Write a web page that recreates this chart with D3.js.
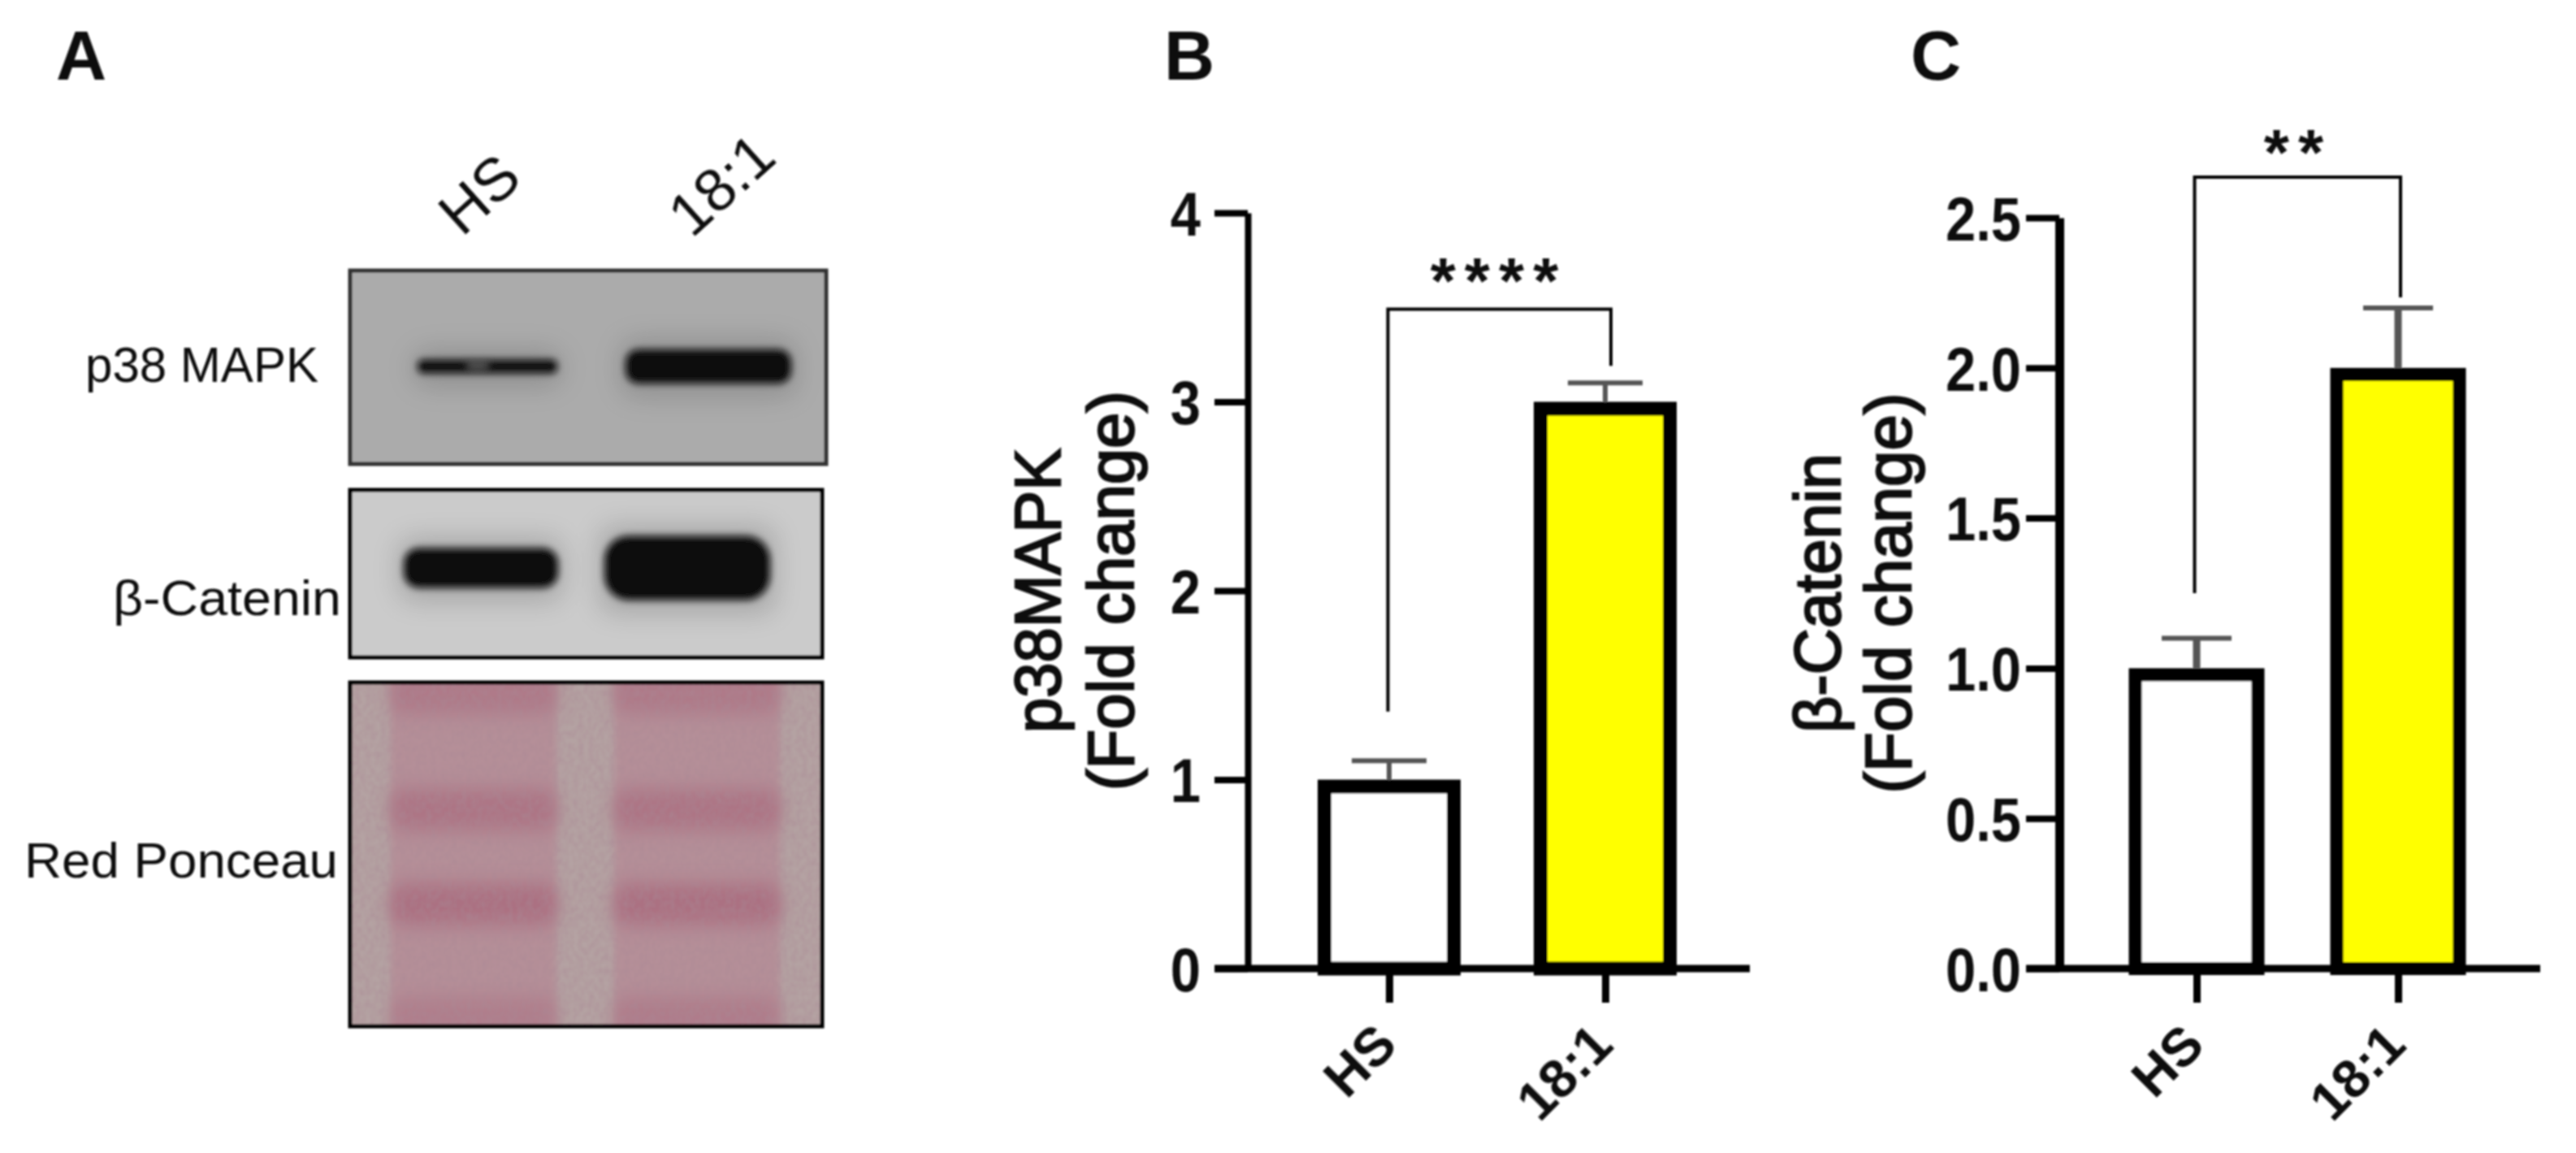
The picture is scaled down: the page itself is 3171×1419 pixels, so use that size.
<!DOCTYPE html>
<html>
<head>
<meta charset="utf-8">
<script src="https://d3js.org/d3.v7.min.js"></script>
<style>
	html, body { margin: 0; background: #fff; }
	svg { display: block; }
	text { font-family: "Liberation Sans", Arial, sans-serif; fill: #111; }
	.panel-letter { font-size: 86px; font-weight: 700; }
	.blot-label { font-size: 62px; }
	.lane-label { font-size: 74px; }
	.axis-title { font-size: 80px; text-anchor: middle; stroke: #111; stroke-width: 2.4px; }
	.tick-label { font-size: 76px; font-weight: 700; }
	.cat-label { font-size: 66px; font-weight: 700; }
	.stars { font-size: 80px; font-weight: 700; text-anchor: middle; }
</style>
</head>
<body>
<div id="vis"></div>
<script>
// data
var categories = ['HS', '18:1'];

var p38Means = [1, 3];
var p38Errors = [0.1, 0.1];
var p38Ticks = [0, 1, 2, 3, 4];
var p38Bracket = [1.36, 3.49, 3.19]; // left end, top, right end

var cateninMeans = [1, 2];
var cateninErrors = [0.1, 0.2];
var cateninTicks = [0, 0.5, 1, 1.5, 2, 2.5];
var cateninBracket = [1.25, 2.635, 2.235];

var barFills = ['#ffffff', '#ffff00'];

// blot band sizes, relative to the strongest lane
var p38Density = [0.4, 1];
var cateninDensity = [0.62, 1];
var ponceauRows = [0.03, 0.37, 0.645, 0.975];
var ponceauHS = [0.7, 0.85, 1, 0.55];
var ponceauOleate = [0.7, 0.85, 1, 0.6];

var width = 3171, height = 1419;

var svg = d3.select('#vis').append('svg')
	.attr('width', width)
	.attr('height', height);

var defs = svg.append('defs');

function addBlur(id, amount) {
	defs.append('filter').attr('id', id)
		.attr('x', '-30%').attr('y', '-80%')
		.attr('width', '160%').attr('height', '260%')
		.append('feGaussianBlur').attr('stdDeviation', amount);
}
addBlur('soft', 4);
addBlur('halo', 16);
addBlur('wide', 11);

// page wide softening, the source is an upscaled bitmap
defs.append('filter').attr('id', 'bitmap')
	.attr('filterUnits', 'userSpaceOnUse')
	.attr('x', 0).attr('y', 0).attr('width', width).attr('height', height)
	.append('feGaussianBlur').attr('stdDeviation', 1);

// membrane grain
var grain = defs.append('filter').attr('id', 'grain')
	.attr('x', 0).attr('y', 0).attr('width', 1).attr('height', 1);
grain.append('feTurbulence')
	.attr('type', 'fractalNoise').attr('baseFrequency', '0.16 0.12')
	.attr('numOctaves', 2).attr('seed', 4);
grain.append('feColorMatrix').attr('values',
	'0 0 0 0 0.4  0 0 0 0 0.25  0 0 0 0 0.3  1.8 0 0 0 -0.6');

var root = svg.append('g').attr('filter', 'url(#bitmap)');

root.append('text').attr('class', 'panel-letter').attr('x', 69).attr('y', 98).text('A');
root.append('text').attr('class', 'panel-letter').attr('x', 1433).attr('y', 98).text('B');
root.append('text').attr('class', 'panel-letter').attr('x', 2352).attr('y', 98).text('C');

drawBlots();

drawBars({
	means: p38Means, errors: p38Errors, ticks: p38Ticks, bracket: p38Bracket,
	left: 1536, right: 2154, top: 262, bottom: 1192,
	x0: 1710, x1: 1976, barWidth: 176, stroke: 17,
	capHalf: 46, axisWidth: 8, stemWidth: 6,
	tickFormat: d3.format('d'), tickGap: 58,
	title: ['p38MAPK', '(Fold change)'], titleX: [1305, 1395], titleLength: [350, 492],
	stars: '****', starX: 1845, starLift: 12, bracketNudge: [-1.5, 7]
});

drawBars({
	means: cateninMeans, errors: cateninErrors, ticks: cateninTicks, bracket: cateninBracket,
	left: 2535, right: 3127, top: 268, bottom: 1192,
	x0: 2704, x1: 2952, barWidth: 167, stroke: 16,
	capHalf: 43, axisWidth: 11, stemWidth: 9,
	tickFormat: d3.format('.1f'), tickGap: 47,
	title: ['\u03b2-Catenin', '(Fold change)'], titleX: [2265, 2352], titleLength: [344, 493],
	stars: '**', starX: 2829, starLift: 7, bracketNudge: [-2.5, 3]
});


/*
Bar panels B and C
	Built from the scales; the axis path is hidden for x since the
	baseline runs past the tick marks on both sides.
*/
function drawBars(p) {
	var g = root.append('g');

	var yMax = d3.max(p.ticks);
	var y = d3.scaleLinear().domain([0, yMax]).range([p.bottom, p.top]);
	var x = d3.scalePoint().domain(categories).range([p.x0, p.x1]);

	// bars
	categories.forEach(function(cat, i) {
		var top = y(p.means[i]) + p.stroke / 2;
		g.append('rect')
			.attr('x', x(cat) - p.barWidth / 2 + p.stroke / 2)
			.attr('y', top)
			.attr('width', p.barWidth - p.stroke)
			.attr('height', y(0) - top)
			.attr('fill', barFills[i])
			.attr('stroke', '#000')
			.attr('stroke-width', p.stroke);

		// error bar
		g.append('line')
			.attr('x1', x(cat)).attr('x2', x(cat))
			.attr('y1', y(p.means[i])).attr('y2', y(p.means[i] + p.errors[i]))
			.attr('stroke', '#555').attr('stroke-width', p.stemWidth);
		g.append('line')
			.attr('x1', x(cat) - p.capHalf).attr('x2', x(cat) + p.capHalf)
			.attr('y1', y(p.means[i] + p.errors[i])).attr('y2', y(p.means[i] + p.errors[i]))
			.attr('stroke', '#555').attr('stroke-width', 6);
	});

	// y axis
	var yAxis = g.append('g')
		.attr('transform', 'translate(' + p.left + ',0)')
		.call(d3.axisLeft(y).tickValues(p.ticks).tickFormat(p.tickFormat).tickSize(41).tickSizeOuter(0).tickPadding(17));
	yAxis.selectAll('.domain').attr('stroke', '#000').attr('stroke-width', p.axisWidth);
	yAxis.selectAll('.tick line').attr('stroke', '#000').attr('stroke-width', 8);
	// digits in the source are taller than they are wide
	yAxis.selectAll('.tick text')
		.attr('class', 'tick-label')
		.attr('x', 0).attr('dy', '0.36em')
		.attr('transform', 'translate(' + (-p.tickGap) + ',0) scale(0.88,1)');
	yAxis.attr('font-size', null).attr('font-family', null);

	// x axis
	var xAxis = g.append('g')
		.attr('transform', 'translate(0,' + p.bottom + ')')
		.call(d3.axisBottom(x).tickSize(42).tickSizeOuter(0));
	xAxis.selectAll('.domain').remove();
	xAxis.selectAll('.tick line').attr('stroke', '#000').attr('stroke-width', 9);
	xAxis.selectAll('.tick text')
		.attr('class', 'cat-label')
		.attr('text-anchor', 'end')
		.attr('x', 0).attr('y', 0).attr('dy', 0)
		.attr('transform', 'translate(12,97) rotate(-45)');
	xAxis.attr('font-size', null).attr('font-family', null);

	g.append('line')
		.attr('x1', p.left - 41).attr('x2', p.right)
		.attr('y1', y(0)).attr('y2', y(0))
		.attr('stroke', '#000').attr('stroke-width', 9);

	// significance bracket
	var lx = x(categories[0]) + p.bracketNudge[0];
	var rx = x(categories[1]) + p.bracketNudge[1];
	g.append('path')
		.attr('d', d3.line()([
			[lx, y(p.bracket[0])], [lx, y(p.bracket[1])],
			[rx, y(p.bracket[1])], [rx, y(p.bracket[2])]
		]))
		.attr('fill', 'none').attr('stroke', '#000').attr('stroke-width', 4);
	g.append('text').attr('class', 'stars')
		.attr('x', p.starX).attr('y', y(p.bracket[1]) - p.starLift + 4)
		.style('letter-spacing', '11px')
		.text(p.stars);

	// axis title, two rotated lines
	p.title.forEach(function(t, i) {
		g.append('text').attr('class', 'axis-title')
			.attr('transform', 'translate(' + p.titleX[i] + ',' + ((p.top + p.bottom) / 2) + ') rotate(-90)')
			.attr('textLength', p.titleLength[i])
			.attr('lengthAdjust', 'spacingAndGlyphs')
			.text(t);
	});
}


/*
Panel A
	Blots redrawn as blurred shapes over flat membranes. Band height
	comes from the density arrays.
*/
function drawBlots() {
	var g = root.append('g');

	// lane labels
	g.append('text').attr('class', 'lane-label')
		.attr('text-anchor', 'middle')
		.attr('transform', 'translate(607,258) rotate(-42)').text(categories[0]);
	g.append('text').attr('class', 'lane-label')
		.attr('text-anchor', 'middle')
		.attr('transform', 'translate(905,246) rotate(-42)').text(categories[1]);

	// side labels, squeezed to the widths in the source
	g.append('text').attr('class', 'blot-label').attr('x', 105).attr('y', 470)
		.attr('textLength', 287).attr('lengthAdjust', 'spacingAndGlyphs').text('p38 MAPK');
	g.append('text').attr('class', 'blot-label').attr('x', 139).attr('y', 757)
		.attr('textLength', 281).attr('lengthAdjust', 'spacingAndGlyphs').text('\u03b2-Catenin');
	g.append('text').attr('class', 'blot-label').attr('x', 30).attr('y', 1080)
		.attr('textLength', 386).attr('lengthAdjust', 'spacingAndGlyphs').text('Red Ponceau');

	// p38 blot
	var p38Box = { x: 431, y: 333, w: 586, h: 238 };
	membrane(g, p38Box, '#ababab', '#333');
	var p38X = d3.scalePoint().domain(categories).range([600, 872]);
	var p38H = d3.scaleLinear().domain([0, 1]).range([0, 42]);
	bands(g, p38X, 451, p38Density, p38H, [172, 204], '#0c0c0c');
	// faint split in the weak band
	g.append('ellipse').attr('cx', p38X(categories[0]) - 12).attr('cy', 450)
		.attr('rx', 16).attr('ry', 7)
		.attr('fill', '#777').attr('opacity', 0.6).attr('filter', 'url(#soft)');

	// catenin blot
	var catBox = { x: 431, y: 603, w: 581, h: 206 };
	membrane(g, catBox, '#cbcbcb', '#000');
	var catX = d3.scalePoint().domain(categories).range([592, 846]);
	var catH = d3.scaleLinear().domain([0, 1]).range([0, 79]);
	bands(g, catX, 699, cateninDensity, catH, [190, 204], '#0a0a0a');

	// ponceau
	var ponBox = { x: 431, y: 840, w: 581, h: 423 };
	membrane(g, ponBox, '#b4a2a2', '#000', true);
	var ponX = d3.scalePoint().domain(categories).range([583, 858]);
	var ponY = d3.scaleLinear().domain([0, 1]).range([ponBox.y, ponBox.y + ponBox.h]);
	var clip = defs.append('clipPath').attr('id', 'ponclip');
	clip.append('rect').attr('x', ponBox.x).attr('y', ponBox.y).attr('width', ponBox.w).attr('height', ponBox.h);
	var pg = g.append('g').attr('clip-path', 'url(#ponclip)');
	categories.forEach(function(cat, i) {
		var densities = i === 0 ? ponceauHS : ponceauOleate;
		// lane wash
		pg.append('rect')
			.attr('x', ponX(cat) - 102).attr('y', ponBox.y - 30)
			.attr('width', 204).attr('height', ponBox.h + 60)
			.attr('fill', '#b58f98').attr('filter', 'url(#soft)');
		ponceauRows.forEach(function(r, j) {
			pg.append('rect')
				.attr('x', ponX(cat) - 104).attr('y', ponY(r) - 26)
				.attr('width', 208).attr('height', 52).attr('rx', 18)
				.attr('fill', '#a8667a')
				.attr('opacity', densities[j] * 0.75)
				.attr('filter', 'url(#wide)');
		});
	});
	pg.append('rect')
		.attr('x', ponBox.x).attr('y', ponBox.y)
		.attr('width', ponBox.w).attr('height', ponBox.h)
		.attr('filter', 'url(#grain)').attr('opacity', 0.5);
	g.append('rect')
		.attr('x', ponBox.x).attr('y', ponBox.y)
		.attr('width', ponBox.w).attr('height', ponBox.h)
		.attr('fill', 'none').attr('stroke', '#000').attr('stroke-width', 5);
}

function membrane(g, box, fill, edge, skipEdge) {
	g.append('rect')
		.attr('x', box.x).attr('y', box.y)
		.attr('width', box.w).attr('height', box.h)
		.attr('fill', fill)
		.attr('stroke', skipEdge ? 'none' : edge).attr('stroke-width', 5);
}

function bands(g, x, cy, density, h, widths, colour) {
	categories.forEach(function(cat, i) {
		var bh = h(density[i]);
		g.append('rect')
			.attr('x', x(cat) - widths[i] / 2 - 6).attr('y', cy - bh / 2 - 12)
			.attr('width', widths[i] + 12).attr('height', bh + 28)
			.attr('rx', 20)
			.attr('fill', '#555').attr('opacity', 0.3)
			.attr('filter', 'url(#halo)');
		g.append('rect')
			.attr('x', x(cat) - widths[i] / 2).attr('y', cy - bh / 2)
			.attr('width', widths[i]).attr('height', bh)
			.attr('rx', bh * 0.38)
			.attr('fill', colour)
			.attr('filter', 'url(#soft)');
	});
}
</script>
</body>
</html>
